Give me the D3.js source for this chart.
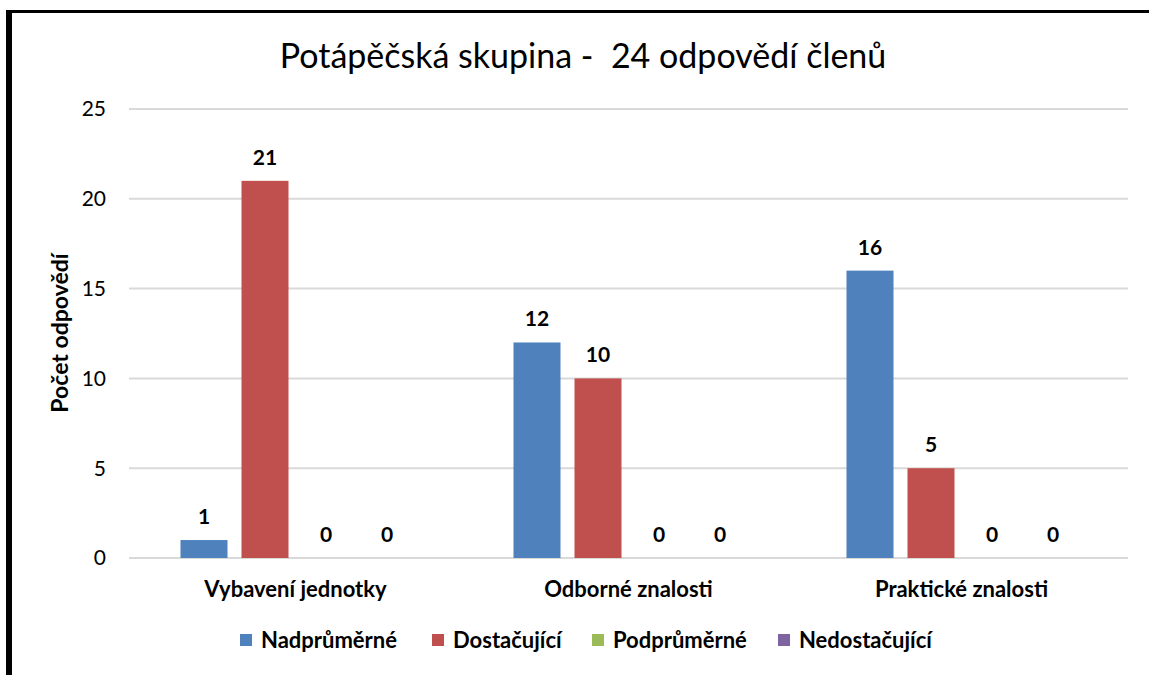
<!DOCTYPE html>
<html>
<head>
<meta charset="utf-8">
<script src="https://cdn.jsdelivr.net/npm/d3@7"></script>
<style>
  body { margin: 0; background: #fff; }
  text { font-family: Lato, "Open Sans", sans-serif; fill: #000; white-space: pre; }
</style>
</head>
<body>
<div id="chart"></div>
<script>
// Data
var categories = ["Vybavení jednotky", "Odborné znalosti", "Praktické znalosti"];
var seriesNames = ["Nadprůměrné", "Dostačující", "Podprůměrné", "Nedostačující"];
var seriesColors = ["#4F81BD", "#C0504D", "#9BBB59", "#8064A2"];
var nadprumerne = [1, 12, 16];
var dostacujici = [21, 10, 5];
var podprumerne = [0, 0, 0];
var nedostacujici = [0, 0, 0];
var yTicks = [0, 5, 10, 15, 20, 25];

var seriesValues = [nadprumerne, dostacujici, podprumerne, nedostacujici];

var width = 1149, height = 675;
var plot = { left: 129, right: 1128, top: 109, bottom: 558 };

var svg = d3.select("#chart").append("svg")
    .attr("width", width)
    .attr("height", height);

// Frame (only top and left edges visible)
svg.append("rect").attr("x", 6).attr("y", 10).attr("width", 6).attr("height", height - 10).attr("fill", "#000");
svg.append("rect").attr("x", 6).attr("y", 10).attr("width", width - 6).attr("height", 3).attr("fill", "#000");

// Title
svg.append("text")
    .attr("x", 583)
    .attr("y", 68)
    .attr("text-anchor", "middle")
    .style("font-size", "34px")
    .text("Potápěčská skupina -  24 odpovědí členů");

var y = d3.scaleLinear().domain([0, 25]).range([plot.bottom, plot.top]);

var x0 = d3.scaleBand().domain(categories).range([plot.left, plot.right]).padding(0);
var x1 = d3.scaleBand().domain(seriesNames).range([0, x0.bandwidth()])
    .paddingInner(14 / 61).paddingOuter(0.844);

// Gridlines
svg.append("g").selectAll("line")
    .data(yTicks)
    .enter()
    .append("line")
    .attr("x1", plot.left)
    .attr("x2", plot.right)
    .attr("y1", function(d) { return y(d); })
    .attr("y2", function(d) { return y(d); })
    .attr("stroke", "#D9D9D9")
    .attr("stroke-width", 2);

// Y tick labels
svg.append("g").selectAll("text")
    .data(yTicks)
    .enter()
    .append("text")
    .attr("x", 106)
    .attr("y", function(d) { return y(d); })
    .attr("dy", "0.35em")
    .attr("text-anchor", "end")
    .style("font-size", "21px")
    .text(function(d) { return d; });

// Y axis title
svg.append("text")
    .attr("transform", "translate(68,333) rotate(-90)")
    .attr("text-anchor", "middle")
    .style("font-size", "23px")
    .style("font-weight", "bold")
    .text("Počet odpovědí");

// Bars
var rows = [];
categories.forEach(function(c, i) {
    seriesNames.forEach(function(s, j) {
        rows.push({ cat: c, series: s, value: seriesValues[j][i], color: seriesColors[j] });
    });
});

var bars = svg.append("g").selectAll("g")
    .data(rows)
    .enter()
    .append("g")
    .attr("transform", function(d) { return "translate(" + (x0(d.cat) + x1(d.series)) + ",0)"; });

bars.append("rect")
    .attr("y", function(d) { return y(d.value); })
    .attr("width", x1.bandwidth())
    .attr("height", function(d) { return y(0) - y(d.value); })
    .attr("fill", function(d) { return d.color; });

bars.append("text")
    .attr("x", x1.bandwidth() / 2)
    .attr("y", function(d) { return y(d.value) - 16; })
    .attr("text-anchor", "middle")
    .style("font-size", "21px")
    .style("font-weight", "bold")
    .text(function(d) { return d.value; });

// Category labels
svg.append("g").selectAll("text")
    .data(categories)
    .enter()
    .append("text")
    .attr("x", function(d) { return x0(d) + x0.bandwidth() / 2; })
    .attr("y", 597)
    .attr("text-anchor", "middle")
    .style("font-size", "22px")
    .style("font-weight", "bold")
    .text(function(d) { return d; });

// Legend
var legendX = [240, 432, 592, 778];
var legend = svg.append("g").selectAll("g")
    .data(seriesNames)
    .enter()
    .append("g")
    .attr("transform", function(d, i) { return "translate(" + legendX[i] + ",634)"; });

legend.append("rect")
    .attr("width", 12)
    .attr("height", 12)
    .attr("fill", function(d, i) { return seriesColors[i]; });

legend.append("text")
    .attr("x", 21)
    .attr("y", 6)
    .attr("dy", "0.35em")
    .style("font-size", "22px")
    .style("font-weight", "bold")
    .text(function(d) { return d; });
</script>
</body>
</html>
